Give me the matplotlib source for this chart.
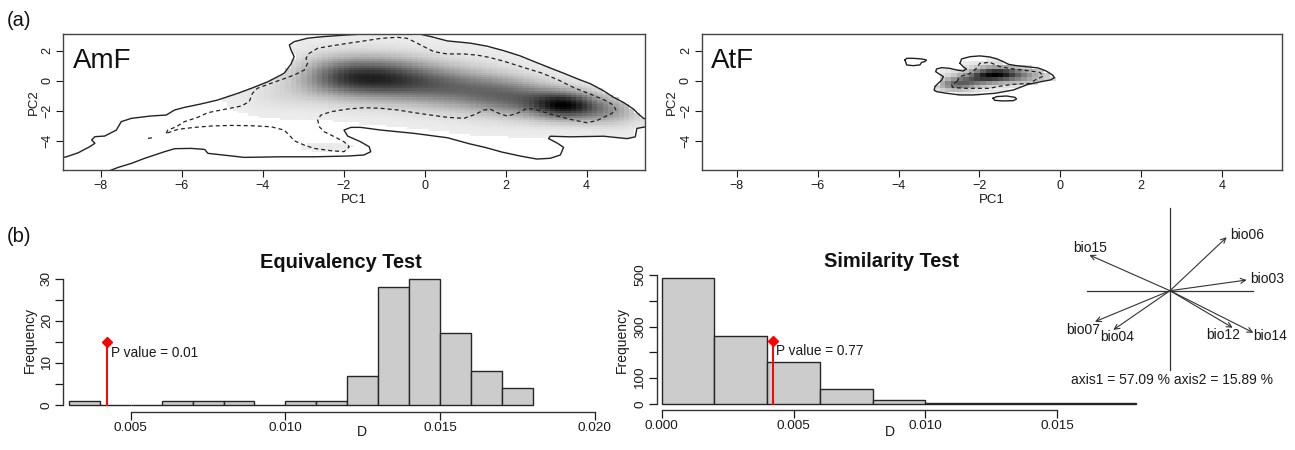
import numpy as np
import matplotlib
matplotlib.use("Agg")
import matplotlib.pyplot as plt
from matplotlib.path import Path

# ------------------------------------------------------------------ data
pc1_ticks = [-8, -6, -4, -2, 0, 2, 4]
pc2_ticks = [-4, -2, 0, 2]

# AmF occupancy density, kernel components
amf_cx = [-3.7, -2.1, -0.7, 0.8, 2.2, 3.5, 4.7, -2.4]
amf_cy = [-1.1, 0.25, 0.1, -0.5, -1.1, -1.65, -2.1, -4.4]
amf_sx = [0.7, 0.9, 0.9, 0.9, 0.8, 0.65, 0.6, 0.4]
amf_sy = [0.75, 1.1, 1.15, 1.15, 1.05, 0.75, 0.75, 0.2]
amf_w = [0.14, 0.72, 0.66, 0.55, 0.58, 0.95, 0.42, 0.1]

# AmF environment contour (solid, 100 %)
amf_env_x = [-9.3, -8.84, -8.55, -8.27, -8.14, -8.22, -8.14, -7.9, -7.61, -7.49, -7.24, -6.75, -6.38, -6.17,
             -5.93, -5.52, -5.11, -4.61, -4.28, -3.87, -3.47, -3.3, -3.22, -3.3, -3.34, -3.22, -2.89, -2.48,
             -1.9, -1.25, -0.6, -0.2, 0.15, 0.56, 1.13, 1.54, 1.95, 2.36, 2.77, 3.19, 3.43, 3.84, 4.09, 4.42,
             4.66, 4.91, 5.16, 5.27, 5.4, 5.6, 5.6, 5.24, 5.2, 5.0, 4.42, 3.6, 3.1, 3.06, 3.27, 3.43, 3.35,
             3.1, 2.77, 2.36, 1.9, 1.5, 1.1, 0.56, -0.26, -1.08, -1.58, -1.82, -1.99, -1.9, -1.58, -1.37,
             -1.33, -1.5, -1.9, -2.72, -3.55, -4.45, -5.35, -5.43, -5.76, -6.17, -6.42, -6.91, -7.24, -7.57,
             -7.78, -7.95, -9.3, -9.3]
amf_env_y = [-5.3, -5.07, -4.8, -4.4, -4.17, -3.95, -3.73, -3.69, -3.29, -2.73, -2.51, -2.35, -2.29, -1.95,
             -1.78, -1.55, -1.29, -0.84, -0.51, -0.07, 0.49, 1.1, 1.6, 2.05, 2.38, 2.6, 2.83, 2.94,
             3.05, 3.15, 3.25, 3.15, 2.94, 2.65, 2.5, 2.3, 2.0, 1.65, 1.2, 0.75, 0.5, 0.05, -0.2, -0.68,
             -1.1, -1.45, -1.9, -2.2, -2.5, -2.7, -3.0, -3.18, -3.74, -3.86, -3.7, -3.74, -3.7, -3.86, -4.15, -4.44, -4.95,
             -5.17, -5.22, -5.02, -4.75, -4.45, -4.2, -3.8, -3.51, -3.29, -3.11, -3.11, -3.29, -3.69, -4.07, -4.4,
             -4.73, -4.95, -5.02, -5.07, -5.07, -5.11, -4.84, -4.58, -4.51, -4.53, -4.73, -5.17, -5.51, -5.78,
             -6.0, -6.4, -6.4, -5.3]

# AmF environment contour (dashed, 50 %)
amf_half_x = [-6.38, -6.34, -6.13, -5.93, -5.6, -5.35, -4.94, -4.53, -4.33, -4.25, -4.13, -3.8, -3.5, -3.22,
              -2.97, -2.89, -2.93, -2.85, -2.64, -2.32, -1.9, -1.49, -1.08, -0.67, -0.43, -0.26, -0.02, 0.23,
              0.56, 0.97, 1.3, 1.6, 1.95, 2.36, 2.9, 3.3, 3.71, 4.1, 4.44, 4.66, 4.72, 4.62, 4.42, 4.25, 4.0,
              3.6, 3.19, 2.77, 2.53, 2.28, 2.04, 1.79, 1.63, 1.46, 1.3, 1.13, 0.97, 0.56, 0.15, -0.26, -0.67,
              -1.08, -1.49, -1.9, -2.32, -2.56, -2.64, -2.6, -2.48, -2.23, -1.99, -1.86, -1.99, -2.32, -2.73,
              -2.97, -3.22, -3.35, -3.47, -3.79, -4.28, -4.78, -5.27, -5.68, -6.09, -6.38]
amf_half_y = [-3.51, -3.29, -3.07, -2.73, -2.44, -2.13, -1.91, -1.69, -1.4, -0.84, -0.51, -0.18, 0.1, 0.38,
              0.71, 1.16, 1.49, 1.82, 2.16, 2.31, 2.49, 2.65, 2.82, 2.89, 2.82, 2.6, 2.27, 1.93,
              1.78, 1.78, 1.7, 1.55, 1.3, 0.95, 0.5, 0.05, -0.5, -0.9, -1.29, -1.62, -1.95, -2.18, -2.44, -2.66, -2.8,
              -2.58, -2.29, -1.95, -1.84, -2.18, -2.36, -2.13, -1.91, -1.95, -2.18, -2.36, -2.51, -2.44, -2.29, -2.13, -1.95,
              -1.84, -1.8, -1.89, -2.07, -2.29, -2.62, -3.07, -3.4, -3.73, -4.07, -4.4, -4.73, -4.66, -4.51,
              -4.29, -4.0, -3.6, -3.29, -3.07, -3.0, -2.98, -3.02, -3.11, -3.24, -3.51]
amf_half2_x = [-6.83, -6.66]
amf_half2_y = [-3.84, -3.78]

# AtF occupancy density components
atf_cx = [-1.6, -2.6, -2.05, -0.9]
atf_cy = [0.5, -0.25, 0.1, 0.3]
atf_sx = [0.45, 0.35, 0.4, 0.55]
atf_sy = [0.35, 0.35, 0.35, 0.4]
atf_w = [1.0, 0.75, 0.55, 0.5]

# AtF environment contours
atf_env_x = [-2.48, -2.44, -2.23, -1.99, -1.74, -1.57, -1.41, -1.28, -1.08, -0.83, -0.55, -0.35, -0.19, -0.14,
             -0.24, -0.5, -0.8, -1.16, -1.61, -2.15, -2.48, -2.81, -3.06, -3.12, -3.1, -3.02, -2.93, -2.89,
             -2.98, -3.08, -3.06, -2.93, -2.73, -2.56, -2.4, -2.32, -2.4, -2.48]
atf_env_y = [1.16, 1.45, 1.6, 1.65, 1.58, 1.45, 1.27, 1.09, 1.0, 0.93, 0.85, 0.65, 0.38, 0.2,
             0.05, -0.08, -0.25, -0.62, -0.84, -0.95, -0.95, -0.84, -0.73, -0.62, -0.4, -0.18, 0.05, 0.27,
             0.42, 0.6, 0.78, 0.87, 0.82, 0.71, 0.65, 0.78, 0.93, 1.16]
atf_isl1_x = [-3.84, -3.8, -3.64, -3.43, -3.31, -3.35, -3.43, -3.47, -3.64, -3.8, -3.84]
atf_isl1_y = [1.38, 1.49, 1.49, 1.45, 1.38, 1.27, 1.22, 1.05, 1.0, 1.05, 1.38]
atf_isl2_x = [-1.66, -1.57, -1.33, -1.12, -1.08, -1.16, -1.41, -1.62, -1.66]
atf_isl2_y = [-1.17, -1.06, -1.02, -1.11, -1.22, -1.33, -1.35, -1.31, -1.17]
atf_half_x = [-2.56, -2.48, -2.23, -2.07, -1.99, -1.74, -1.49, -1.16, -0.75, -0.5, -0.42, -0.6, -0.75, -1.16,
              -1.57, -1.74, -2.32, -2.65, -2.69, -2.56]
atf_half_y = [-0.07, 0.27, 0.49, 0.82, 1.16, 1.22, 0.93, 0.78, 0.65, 0.55, 0.3, 0.08, -0.18, -0.24,
              -0.4, -0.51, -0.51, -0.46, -0.29, -0.07]

# Histograms
eq_breaks = [0.003, 0.004, 0.005, 0.006, 0.007, 0.008, 0.009, 0.010, 0.011, 0.012, 0.013, 0.014, 0.015,
             0.016, 0.017, 0.018]
eq_counts = [1, 0, 0, 1, 1, 1, 0, 1, 1, 7, 28, 30, 17, 8, 4]
sim_breaks = [0.000, 0.002, 0.004, 0.006, 0.008, 0.010, 0.012, 0.014, 0.016, 0.018]
sim_counts = [490, 263, 163, 57, 14, 3, 5, 3, 2]
obs_D = 0.00422
eq_p = "P value = 0.01"
sim_p = "P value = 0.77"
eq_xticks = [0.005, 0.010, 0.015, 0.020]
sim_xticks = [0.000, 0.005, 0.010, 0.015]

# PCA contributions
pca_vars = ["bio06", "bio03", "bio15", "bio07", "bio04", "bio12", "bio14"]
pca_x = [0.683, 0.924, -0.972, -0.904, -0.683, 0.755, 1.004]
pca_y = [0.644, 0.129, 0.430, -0.373, -0.472, -0.446, -0.506]
pca_text = "axis1 = 57.09 % axis2 = 15.89 %"

# ------------------------------------------------------------------ style
W, H = 1295, 450
plt.rcParams['font.family'] = ['Liberation Sans', 'DejaVu Sans']
INK = '#1a1a1a'
label_offsets = {"bio06": (20, 2), "bio03": (20, 1), "bio15": (1, 7), "bio07": (-12, -8),
                 "bio04": (4, -7), "bio12": (-9, -7), "bio14": (17, -3)}

fig = plt.figure(figsize=(W / 100, H / 100), dpi=100)


def px_rect(l, t, r, b):
    return [l / W, 1 - b / H, (r - l) / W, (b - t) / H]


def ftext(x, y, s, **kw):
    fig.text(x / W, 1 - y / H, s, **kw)


def kernel(X, Y, cx, cy, sx, sy, w):
    Z = np.zeros_like(X)
    for a, b, c, d, e in zip(cx, cy, sx, sy, w):
        Z += e * np.exp(-0.5 * (((X - a) / c) ** 2 + ((Y - b) / d) ** 2))
    return Z


def niche_panel(rect, xlim, ylim, comps, thr, env, dashed, label, nx=111, ny=61, gamma=1.5):
    ax = fig.add_axes(rect)
    xe = np.linspace(xlim[0], xlim[1], nx)
    ye = np.linspace(ylim[0], ylim[1], ny)
    xc = 0.5 * (xe[1:] + xe[:-1])
    yc = 0.5 * (ye[1:] + ye[:-1])
    X, Y = np.meshgrid(xc, yc)
    Z = kernel(X, Y, *comps)
    Z = Z / Z.max()
    Z[Z < thr] = 0
    inside = Path(np.column_stack(env[0])).contains_points(np.column_stack([X.ravel(), Y.ravel()]))
    Z[~inside.reshape(Z.shape)] = 0
    Z = np.where(Z > 0, 0.07 + 0.93 * Z ** gamma, 0)
    ax.pcolormesh(xe, ye, Z, cmap='gray_r', vmin=0, vmax=1, shading='flat', rasterized=True)
    for ex, ey in env:
        ax.plot(ex, ey, color='#222222', lw=1.0)
    for dx, dy in dashed:
        ax.plot(dx, dy, color='#222222', lw=0.9, ls=(0, (3.2, 2.4)))
    ax.set_xlim(*xlim)
    ax.set_ylim(*ylim)
    ax.set_xticks(pc1_ticks)
    ax.set_xticklabels([f"\u2212{abs(t)}" if t < 0 else str(t) for t in pc1_ticks])
    ax.set_yticks(pc2_ticks)
    ax.set_yticklabels([f"\u2212{abs(t)}" if t < 0 else str(t) for t in pc2_ticks],
                       rotation=90, va='center')
    ax.tick_params(direction='out', length=5, width=0.8, labelsize=9, colors=INK, pad=2)
    for s in ax.spines.values():
        s.set_color('#444444')
        s.set_linewidth(1.0)
    ax.text(0.016, 0.90, label, transform=ax.transAxes, fontsize=20, va='top', ha='left', color='#111111')
    return ax


XL = (-8.92, 5.44)
YL = (-5.95, 3.11)
niche_panel(px_rect(63.3, 34, 645, 170), XL, YL,
            (amf_cx, amf_cy, amf_sx, amf_sy, amf_w), 0.025,
            [(amf_env_x, amf_env_y)],
            [(amf_half_x, amf_half_y), (amf_half2_x, amf_half2_y)], "AmF")
niche_panel(px_rect(701.7, 34, 1281.7, 170), (-8.87, 5.48), YL,
            (atf_cx, atf_cy, atf_sx, atf_sy, atf_w), 0.02,
            [(atf_env_x, atf_env_y), (atf_isl1_x, atf_isl1_y), (atf_isl2_x, atf_isl2_y)],
            [(atf_half_x, atf_half_y)], "AtF", nx=101, ny=36, gamma=1.3)

ftext(354, 200, "PC1", fontsize=9.5, ha='center', va='center', color=INK)
ftext(991.7, 200, "PC1", fontsize=9.5, ha='center', va='center', color=INK)
ftext(34, 102, "PC2", fontsize=9.5, ha='center', va='center', rotation=90, color=INK)
ftext(672, 102, "PC2", fontsize=9.5, ha='center', va='center', rotation=90, color=INK)
ftext(7, 20, "(a)", fontsize=14.5, ha='left', va='center', color='#111111')
ftext(7, 237, "(b)", fontsize=14.5, ha='left', va='center', color='#111111')


def hist_panel(rect, xlim, ylim, breaks, counts, xticks, xlabels, yticks, ylabels, ybounds, xbounds,
               peak, ptext, toff):
    ax = fig.add_axes(rect)
    b = np.array(breaks)
    ax.bar(b[:-1], counts, width=np.diff(b), align='edge', color='#cccccc', edgecolor='#262626',
           linewidth=1.0)
    ax.plot([obs_D, obs_D], [0, peak], color='#ff0000', lw=1.4)
    ax.plot([obs_D], [peak], marker='D', ms=5.5, color='#ff0000', mec='#ff0000')
    ax.annotate(ptext, xy=(obs_D, peak), xytext=toff, textcoords='offset pixels', ha='left',
                va='center', fontsize=9.8, color=INK)
    ax.set_xlim(*xlim)
    ax.set_ylim(*ylim)
    ax.spines['top'].set_visible(False)
    ax.spines['right'].set_visible(False)
    ax.spines['left'].set_bounds(*ybounds)
    ax.spines['bottom'].set_bounds(*xbounds)
    for s in ('left', 'bottom'):
        ax.spines[s].set_color('#333333')
        ax.spines[s].set_linewidth(1.0)
    ax.set_xticks(xticks)
    ax.set_xticklabels(xlabels)
    ax.set_yticks(yticks)
    ax.set_yticklabels(ylabels, rotation=90, va='center')
    ax.tick_params(direction='out', length=6, width=0.9, labelsize=9.7, colors=INK, pad=1.5)
    ax.patch.set_alpha(0)
    return ax


hist_panel(px_rect(63.3, 270, 603, 411.7), (0.00282, 0.02027), (-1.6, 32.1), eq_breaks, eq_counts,
           eq_xticks, [f"{t:.3f}" for t in eq_xticks],
           [0, 5, 10, 15, 20, 25, 30], ["0", "", "10", "", "20", "", "30"], (0, 30), (0.005, 0.020),
           max(eq_counts) / 2, eq_p, (4, -11))
hist_panel(px_rect(656.7, 268, 1140, 410), (-0.00019, 0.01814), (-23.3, 527), sim_breaks, sim_counts,
           sim_xticks, [f"{t:.3f}" for t in sim_xticks],
           [0, 100, 200, 300, 400, 500], ["0", "100", "", "300", "", "500"], (0, 500), (0.0, 0.015),
           max(sim_counts) / 2, sim_p, (3, -10))

ftext(341, 268, "Equivalency Test", fontsize=14.4, fontweight='bold', ha='center', va='baseline', color='#111111')
ftext(892, 267, "Similarity Test", fontsize=14.4, fontweight='bold', ha='center', va='baseline', color='#111111')
ftext(30, 340, "Frequency", fontsize=10, ha='center', va='center', rotation=90, color=INK)
ftext(622, 340, "Frequency", fontsize=10, ha='center', va='center', rotation=90, color=INK)
ftext(362, 432, "D", fontsize=10, ha='center', va='center', color=INK)
ftext(890, 432, "D", fontsize=10, ha='center', va='center', color=INK)

# PCA correlation arrows
U = 83.0
cxp, cyp = 1170.0, 290.7
l, r, t, b = 1050, 1290, 200, 392
axp = fig.add_axes(px_rect(l, t, r, b))
axp.set_xlim((l - cxp) / U, (r - cxp) / U)
axp.set_ylim((cyp - b) / U, (cyp - t) / U)
axp.axis('off')
axp.plot([-1, 1], [0, 0], color='#333333', lw=0.9)
axp.plot([0, 0], [-0.96, 1], color='#333333', lw=0.9)
for name, vx, vy in zip(pca_vars, pca_x, pca_y):
    axp.annotate("", xy=(vx, vy), xytext=(0, 0),
                 arrowprops=dict(arrowstyle='->', color='#333333', lw=0.8, mutation_scale=9,
                                 shrinkA=0, shrinkB=0))
    axp.annotate(name, xy=(vx, vy), xytext=label_offsets[name], textcoords='offset pixels',
                 ha='center', va='center', fontsize=10, color=INK)
axp.text(0.02, (cyp - 380) / U, pca_text, ha='center', va='center', fontsize=10, color=INK)

fig.savefig("out.png", dpi=100)
